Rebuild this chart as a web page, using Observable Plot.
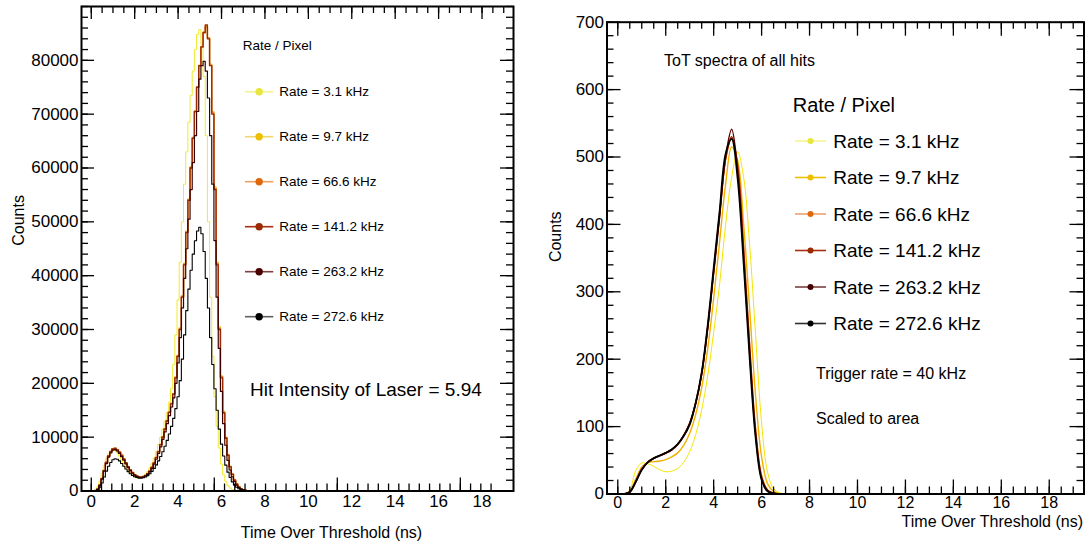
<!DOCTYPE html>
<html><head><meta charset="utf-8">
<script src="https://cdn.jsdelivr.net/npm/d3@7"></script>
<script src="https://cdn.jsdelivr.net/npm/@observablehq/plot@0.6"></script>
<style>
body{margin:0;background:#fff;}
#wrap{position:relative;width:1086px;height:545px;overflow:hidden;background:#fff;}
#left,#right{position:absolute;top:0;}
#left{left:0;} #right{left:540px;}
</style></head><body><div id="wrap"><div id="left"></div><div id="right"></div></div>
<script>
// ---------------- data ----------------
const rates = ["3.1","9.7","66.6","141.2","263.2","272.6"];
const legendTitle = "Rate / Pixel";
const legendLabels = rates.map(r => `Rate = ${r} kHz`);
const xTickLabels = [0,2,4,6,8,10,12,14,16,18];
const yTickLabelsLeft = [0,10000,20000,30000,40000,50000,60000,70000,80000];
const yTickLabelsRight = [0,100,200,300,400,500,600,700];

// left: histogram bin centres (ns), 0.1 ns bins
const binCenters = d3.range(-4, 76).map(i => i / 10);
const histTailEnd = 19.45;
const hist_3_1 = [0,0,0,0,
 0,50,250,800,1800,3200,4700,6000,6900,7400,
 7600,7500,7100,6500,5800,5100,4400,3800,3300,2900,
 2600,2450,2400,2500,2700,3100,3600,4300,5100,6100,
 7300,8600,10000,11500,13000,14600,16500,19000,23500,29000,
 35500,42500,50000,57000,63000,68500,73500,78000,82000,84800,
 85700,83000,77000,66000,50000,36000,25000,17500,12000,8000,
 5000,3000,1800,1000,550,280,140,70,30,10,
 0,0,0,0,0,0];
const hist_9_7 = [0,0,0,0,
 0,0,80,380,1150,2350,3850,5350,6550,7350,
 7850,7950,7700,7250,6650,5950,5250,4550,3950,3450,
 3050,2800,2650,2600,2700,2900,3250,3750,4450,5250,
 6250,7350,8650,10100,11600,13100,14700,16300,18100,21200,
 25200,30300,36300,42300,48300,54200,60200,65700,70600,75100,
 79100,82600,85300,86400,84200,79300,70500,56500,42500,30500,
 21400,14800,10000,6800,4600,3200,2100,1300,780,440,
 240,130,65,32,16,0];
const hist_66_6 = [0,0,0,0,
 0,0,70,360,1120,2320,3820,5320,6520,7330,
 7830,7930,7680,7230,6630,5930,5230,4530,3930,3430,
 3030,2780,2630,2580,2680,2880,3230,3730,4430,5230,
 6230,7330,8630,10050,11550,13050,14650,16250,18050,21100,
 25100,30100,36100,42100,48100,54100,60100,65600,70500,75000,
 79000,82500,85100,86200,84100,79100,70200,56200,42200,30200,
 21200,14600,9900,6700,4550,3150,2050,1280,760,430,
 235,125,62,31,15,0];
const hist_141_2 = [0,0,0,0,
 0,0,60,350,1100,2300,3800,5300,6500,7300,
 7800,7900,7650,7200,6600,5900,5200,4500,3900,3400,
 3000,2750,2600,2550,2650,2850,3200,3700,4400,5200,
 6200,7300,8600,10000,11500,13000,14600,16200,18000,21000,
 25000,30000,36000,42000,48000,54000,60000,65500,70500,75000,
 79000,82500,85200,86600,84000,79000,70000,56000,42000,30000,
 21000,14500,9800,6600,4500,3100,2000,1250,750,420,
 230,120,60,30,15,0];
const hist_263_2 = [0,0,0,0,
 0,0,50,300,1000,2200,3700,5100,6300,7100,
 7600,7700,7450,7000,6400,5750,5050,4400,3800,3300,
 2950,2700,2550,2500,2600,2800,3100,3600,4200,5000,
 5900,7000,8200,9600,11000,12500,14000,15600,17300,20000,
 23800,28500,34000,39500,45000,50500,56000,61000,66000,70500,
 76500,79000,79800,78000,73000,66000,57000,46500,36000,26500,
 18500,12500,8500,5700,3900,2650,1750,1100,650,360,
 200,100,50,25,10,0];
const hist_272_6 = [0,0,0,0,
 0,0,30,200,700,1500,2600,3700,4600,5300,
 5800,6000,5900,5600,5100,4600,4100,3600,3200,2900,
 2650,2500,2400,2400,2450,2600,2850,3200,3650,4200,
 4850,5600,6400,7300,8300,9400,10600,12000,13500,15300,
 17500,20500,24500,29000,33500,37500,41000,44000,46500,48300,
 49000,47800,44500,39500,34000,28500,23500,19000,15000,11500,
 8700,6500,4800,3500,2500,1700,1100,700,420,250,
 140,70,35,15,5,0];

// right: area-scaled spectra sampled every 0.25 ns
const smoothX = d3.range(0, 29).map(i => i * 0.25);
const curveTailEnd = 19.45;
const area_3_1   = [0,0,6,35,46,45,41,36,33,34,38,47,63,88,125,175,240,312,400,470,508,470,370,235,105,32,8,2,0];
const area_9_7   = [0,0,4,22,40,47,48,49,51,55,61,72,90,118,158,215,290,375,460,515,495,400,275,145,55,15,4,1,0];
const area_66_6  = [0,0,3,19,37,47,53,57,60,65,73,86,104,134,178,246,330,415,497,528,488,365,222,96,27,6,1,0,0];
const area_141_2 = [0,0,3,19,37,47,53,57,61,66,74,87,105,135,179,247,331,416,498,530,487,362,218,93,25,5,1,0,0];
const area_263_2 = [0,0,3,18,36,47,53,57,61,66,74,87,105,135,178,245,328,412,500,541,480,352,210,88,23,5,1,0,0];
const area_272_6 = [0,0,3,18,36,47,53,57,61,66,74,86,103,135,180,250,335,420,505,527,468,343,203,84,21,4,1,0,0];

const leftNote = "Hit Intensity of Laser = 5.94";
const rightTitle = "ToT spectra of all hits";
const rightNotes = ["Trigger rate = 40 kHz", "Scaled to area"];
const xTitle = "Time Over Threshold (ns)";
const yTitle = "Counts";

// ---------------- styles ----------------
const FONT = "'Liberation Sans', Arial, Helvetica, sans-serif";
const histColors  = ["#f0ea30","#f0c020","#e07a20","#9a2800","#3a0000","#000000"];
const histWidths  = [1, 1.2, 1.5, 1.3, 1.2, 1.1];
const areaColors  = ["#f2e600","#f0b000","#e86a00","#b02800","#5a0000","#000000"];
const areaWidths  = [1, 1.4, 1.5, 1.5, 1.5, 1.8];
const legLineL = ["#f3f38c","#f2d66a","#eea060","#a83010","#7a4040","#606060"];
const legDotL  = ["#e6e63c","#eebf00","#e0680c","#9c2a00","#4a0000","#000000"];
const legLineR = ["#f5f590","#f0c000","#eea070","#a83010","#7a4040","#303030"];
const legDotR  = ["#e6e63c","#eebf00","#e0680c","#9c2a00","#4a0000","#000000"];

const xDomain = [-0.45, 19.45];

function tickMarks(cfg) {
  const {W, H, xBotMaj, xBotMin, xTopMaj, xTopMin, yMaj, yMin, major, minor} = cfg;
  const st = {stroke: "#000", strokeWidth: 1.3};
  return [
    Plot.ruleX(xBotMin, {...st, insetTop: H - minor}),
    Plot.ruleX(xBotMaj, {...st, insetTop: H - major}),
    Plot.ruleX(xTopMin, {...st, insetBottom: H - minor}),
    Plot.ruleX(xTopMaj, {...st, insetBottom: H - major}),
    Plot.ruleY(yMin, {...st, insetRight: W - minor}),
    Plot.ruleY(yMaj, {...st, insetRight: W - major}),
    Plot.ruleY(yMin, {...st, insetLeft: W - minor}),
    Plot.ruleY(yMaj, {...st, insetLeft: W - major})
  ];
}
const inX = v => v >= xDomain[0] && v <= xDomain[1];

function legend(svg, o) {
  const g = d3.select(svg).append("g").attr("font-family", FONT).attr("fill", "#000")
    .attr("text-anchor", "start").style("text-anchor", "start");
  g.append("text").attr("x", o.headX).attr("y", o.headY).attr("dy", "0.35em")
    .attr("font-size", o.headSize).text(legendTitle);
  legendLabels.forEach((lab, i) => {
    const y = o.y0 + i * o.dy;
    g.append("line").attr("x1", o.lx1).attr("x2", o.lx2).attr("y1", y).attr("y2", y)
      .attr("stroke", o.lines[i]).attr("stroke-width", 1.6);
    g.append("circle").attr("cx", (o.lx1 + o.lx2) / 2).attr("cy", y).attr("r", o.r).attr("fill", o.dots[i]);
    g.append("text").attr("x", o.tx).attr("y", y).attr("dy", "0.35em").attr("font-size", o.size).text(lab);
  });
  (o.notes || []).forEach(n => {
    g.append("text").attr("x", n.x).attr("y", n.y).attr("dy", "0.35em").attr("font-size", n.size).text(n.text);
  });
}

// ---------------- left panel ----------------
{
  const width = 540, height = 545, mt = 6, mb = 54.5, ml = 81, mr = 27;
  const W = width - ml - mr, H = height - mt - mb;
  const series = [hist_3_1, hist_9_7, hist_66_6, hist_141_2, hist_263_2, hist_272_6];
  const lines = series.map((vals, si) => {
    const rows = binCenters.map((x, i) => ({x, y: vals[i]}));
    rows.push({x: histTailEnd, y: 0});
    return Plot.line(rows, {x: "x", y: "y", curve: "step", stroke: histColors[si], strokeWidth: histWidths[si], clip: true});
  });
  const xMajB = [0, 17/3, 34/3, 17];
  const xMinB = d3.range(0, 40).map(i => i * 17 / 36).filter(inX);
  const xMajT = xTickLabels;
  const xMinT = d3.range(0, 40).map(i => i * 0.5).filter(inX);
  const yMin = d3.range(0, 46).map(i => i * 2000).filter(v => v <= 90000);
  const svg = Plot.plot({
    width, height, marginTop: mt, marginBottom: mb, marginLeft: ml, marginRight: mr,
    style: {fontFamily: FONT, fontSize: "16px", color: "#000", background: "#fff"},
    x: {domain: xDomain, label: null, axis: null},
    y: {domain: [0, 90000], label: null, axis: null},
    marks: [
      ...lines,
      ...tickMarks({W, H, xBotMaj: xMajB, xBotMin: xMinB, xTopMaj: xMajT, xTopMin: xMinT,
        yMaj: yTickLabelsLeft, yMin, major: 13, minor: 7}),
      Plot.axisX({ticks: xTickLabels, tickSize: 0, tickPadding: 4, label: null, fontSize: 17}),
      Plot.axisY({ticks: yTickLabelsLeft, tickSize: 0, tickPadding: 3, label: null, fontSize: 17, tickFormat: d3.format("d")}),
      Plot.text([xTitle], {frameAnchor: "bottom", dx: 34, dy: 47, fontSize: 16}),
      Plot.text([yTitle], {frameAnchor: "left", dx: -63, dy: -3, rotate: -90, fontSize: 16}),
      Plot.frame({stroke: "#000", strokeWidth: 2})
    ]
  });
  document.getElementById("left").appendChild(svg);
  legend(svg, {headX: 242.7, headY: 45.7, headSize: 13.5, y0: 91.7, dy: 45,
    lx1: 245, lx2: 273.3, r: 3.7, tx: 279.3, size: 13.5, lines: legLineL, dots: legDotL,
    notes: [{x: 250, y: 389.3, size: 19, text: leftNote}]});
}

// ---------------- right panel ----------------
{
  const width = 546, height = 545, mt = 21.7, mb = 51.5, ml = 66.5, mr = 2.5;
  const W = width - ml - mr, H = height - mt - mb;
  const series = [area_3_1, area_9_7, area_66_6, area_141_2, area_263_2, area_272_6];
  const lines = series.map((vals, si) => {
    const rows = smoothX.map((x, i) => ({x, y: vals[i]}));
    rows.push({x: curveTailEnd, y: 0});
    return Plot.line(rows, {x: "x", y: "y", curve: "catmull-rom", stroke: areaColors[si], strokeWidth: areaWidths[si], clip: true});
  });
  const xMin = d3.range(0, 40).map(i => i * 0.5).filter(inX);
  const yMin = d3.range(0, 36).map(i => i * 20).filter(v => v <= 700);
  const svg = Plot.plot({
    width, height, marginTop: mt, marginBottom: mb, marginLeft: ml, marginRight: mr,
    style: {fontFamily: FONT, fontSize: "16px", color: "#000", background: "#fff", overflow: "visible"},
    x: {domain: xDomain, label: null, axis: null},
    y: {domain: [0, 700], label: null, axis: null},
    marks: [
      ...lines,
      ...tickMarks({W, H, xBotMaj: xTickLabels, xBotMin: xMin, xTopMaj: xTickLabels, xTopMin: xMin,
        yMaj: yTickLabelsRight, yMin, major: 14, minor: 7}),
      Plot.axisX({ticks: xTickLabels, tickSize: 0, tickPadding: 3, label: null, fontSize: 16}),
      Plot.axisY({ticks: yTickLabelsRight, tickSize: 0, tickPadding: 3, label: null, fontSize: 17, tickFormat: d3.format("d")}),
      Plot.text([xTitle], {frameAnchor: "bottom-right", textAnchor: "end", dx: -1, dy: 33, fontSize: 16}),
      Plot.text([yTitle], {frameAnchor: "left", dx: -51.5, dy: 4, rotate: -90, fontSize: 16}),
      Plot.frame({stroke: "#000", strokeWidth: 2})
    ]
  });
  document.getElementById("right").appendChild(svg);
  legend(svg, {headX: 252.7, headY: 105, headSize: 20, y0: 141, dy: 36.5,
    lx1: 255, lx2: 286, r: 3, tx: 293.3, size: 19, lines: legLineR, dots: legDotR,
    notes: [
      {x: 124, y: 60, size: 16, text: rightTitle},
      {x: 276, y: 373.3, size: 16, text: rightNotes[0]},
      {x: 276, y: 418.3, size: 16, text: rightNotes[1]}
    ]});
}
</script></body></html>
